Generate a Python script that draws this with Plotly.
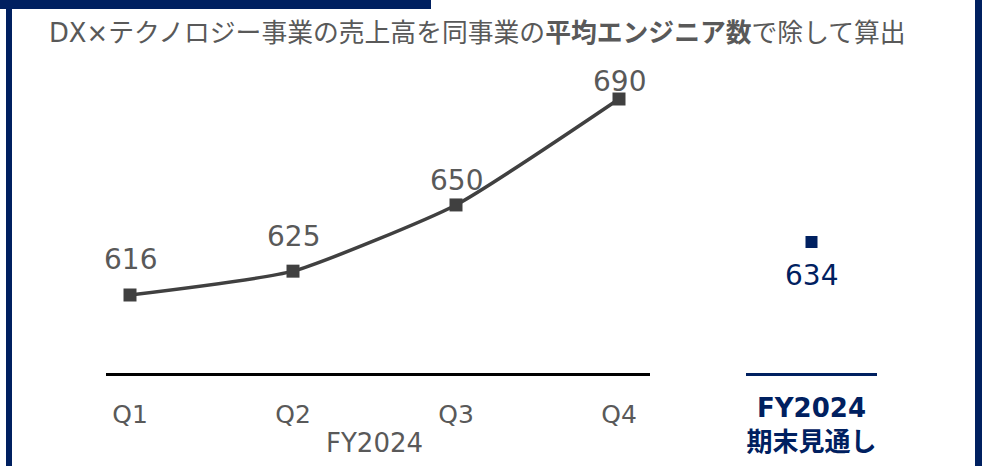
import plotly.graph_objects as go

# Quarterly revenue per engineer (DX x Technology business), FY2024
quarters = ["Q1", "Q2", "Q3", "Q4"]
values = [616, 625, 650, 690]
period_label = "FY2024"

# Full-year outlook
outlook_label = "FY2024<br>期末見通し"
outlook_value = 634

title_plain_1 = "DX×テクノロジー事業の売上高を同事業の"
title_bold = "平均エンジニア数"
title_plain_2 = "で除して算出"

W, H = 993, 466
NAVY = "#002060"
GRAY_TXT = "#595959"
LINE = "#404040"
FONT = "DejaVu Sans, Noto Sans CJK JP"


def px_x(p):
    return p / W


def px_y(p):
    return 1 - p / H


x_idx = list(range(len(quarters)))

fig = go.Figure()

fig.add_trace(go.Scatter(
    x=x_idx, y=values, mode="lines+markers",
    line=dict(color=LINE, width=3.5, shape="spline", smoothing=0.5),
    marker=dict(symbol="square", size=13, color=LINE),
    xaxis="x", yaxis="y", hoverinfo="skip", showlegend=False,
))

fig.add_trace(go.Scatter(
    x=[0], y=[outlook_value], mode="markers",
    marker=dict(symbol="square", size=12, color=NAVY),
    xaxis="x2", yaxis="y2", hoverinfo="skip", showlegend=False,
))

# value labels above each quarterly point
label_shift = [36, 35, 24, 17]
annotations = []
for i, v in enumerate(values):
    annotations.append(dict(
        x=i, y=v, xref="x", yref="y", text=str(v), showarrow=False,
        yshift=label_shift[i], font=dict(family=FONT, size=28, color=GRAY_TXT),
    ))

annotations.append(dict(
    x=0, y=outlook_value, xref="x2", yref="y2", text=str(outlook_value),
    showarrow=False, yshift=-33, font=dict(family=FONT, size=28, color=NAVY),
))

annotations.append(dict(
    x=(len(quarters) - 1) / 2, y=px_y(443), xref="x", yref="paper",
    text=period_label, showarrow=False, yanchor="middle",
    font=dict(family=FONT, size=26, color=GRAY_TXT),
))

annotations.append(dict(
    x=px_x(47), y=px_y(33), xref="paper", yref="paper", xanchor="left",
    yanchor="middle", showarrow=False,
    text=f"{title_plain_1}<b>{title_bold}</b>{title_plain_2}",
    font=dict(family=FONT, size=25.8, color=GRAY_TXT),
))

# frame: top tab and side rules
shapes = [
    dict(type="rect", xref="paper", yref="paper", x0=0, x1=px_x(431),
         y0=px_y(9), y1=1, fillcolor=NAVY, line_width=0, layer="below"),
    dict(type="rect", xref="paper", yref="paper", x0=px_x(6), x1=px_x(12),
         y0=0, y1=px_y(9), fillcolor=NAVY, line_width=0, layer="below"),
    dict(type="rect", xref="paper", yref="paper", x0=px_x(975), x1=px_x(982),
         y0=0, y1=1, fillcolor=NAVY, line_width=0, layer="below"),
]

y_dom = [px_y(373), px_y(60)]
scale = (295 - 99) / (values[-1] - values[0])  # px per unit
y_lo = values[0] - (373 - 295) / scale
y_hi = values[0] + (295 - 60) / scale
y2_lo = outlook_value - (373 - 242) / scale
y2_hi = outlook_value + (242 - 60) / scale

step = 163
fig.update_layout(
    width=W, height=H, margin=dict(l=0, r=0, t=0, b=0),
    paper_bgcolor="white", plot_bgcolor="rgba(0,0,0,0)",
    annotations=annotations, shapes=shapes,
    xaxis=dict(
        domain=[px_x(106), px_x(650)],
        range=[-24 / step, 3 + 31 / step],
        tickvals=x_idx, ticktext=quarters, ticks="",
        ticklabelstandoff=17,
        tickfont=dict(family=FONT, size=25, color=GRAY_TXT),
        showline=True, linecolor="#000000", linewidth=2.5,
        showgrid=False, zeroline=False, fixedrange=True,
    ),
    yaxis=dict(
        domain=y_dom, range=[y_lo, y_hi], visible=False,
        showgrid=False, zeroline=False,
    ),
    xaxis2=dict(
        domain=[px_x(746), px_x(877)], anchor="y2",
        range=[-0.5, 0.5], tickvals=[0],
        ticktext=[f"<b>{outlook_label}</b>"], ticks="",
        ticklabelstandoff=10,
        tickfont=dict(family=FONT, size=26, color=NAVY),
        showline=True, linecolor=NAVY, linewidth=3,
        showgrid=False, zeroline=False,
    ),
    yaxis2=dict(
        domain=y_dom, range=[y2_lo, y2_hi], anchor="x2", visible=False,
        showgrid=False, zeroline=False,
    ),
)

fig.write_html("out.html")
